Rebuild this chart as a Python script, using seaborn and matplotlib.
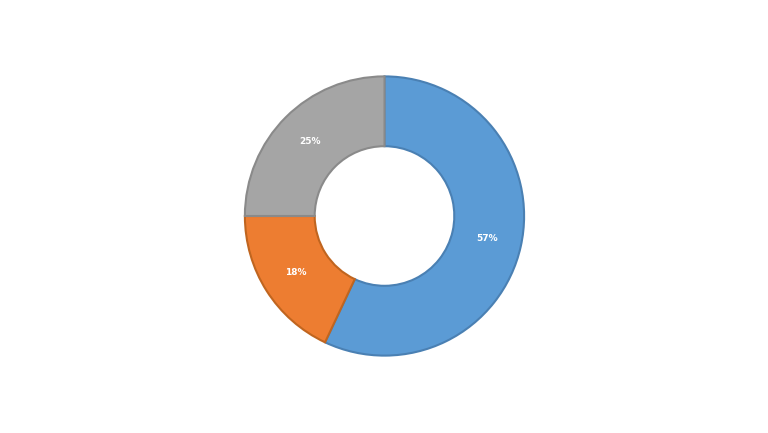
import matplotlib
matplotlib.use("Agg")
import matplotlib.pyplot as plt
import seaborn as sns

# ==========================================================
# Data
# ==========================================================

categories = ["Blue", "Orange", "Gray"]
shares = [57, 18, 25]
pct_labels = ["57%", "18%", "25%"]

fill_colors = ["#5B9BD5", "#ED7D31", "#A5A5A5"]
edge_colors = ["#4A80B3", "#C0651F", "#8A8A8A"]

sns.set_theme(style="white")
plt.rcParams["font.family"] = ["DejaVu Sans"]

# ==========================================================
# Donut chart
# ==========================================================

fig = plt.figure(figsize=(7.68, 4.33), dpi=100)
fig.patch.set_facecolor("white")

# square axes centred on the donut
side = 282
cx, cy = 384.5, 433 - 216
ax = fig.add_axes([
    (cx - side / 2) / 768,
    (cy - side / 2) / 433,
    side / 768,
    side / 433
])

wedges, _ = ax.pie(
    shares,
    colors=fill_colors,
    startangle=90,
    counterclock=False,
    radius=1,
    wedgeprops={"width": 0.5, "linewidth": 1.5}
)

for w, ec in zip(wedges, edge_colors):
    w.set_edgecolor(ec)

# labels at the middle of the ring
import numpy as np
for w, lab in zip(wedges, pct_labels):
    ang = np.deg2rad((w.theta1 + w.theta2) / 2)
    r = 0.75
    ax.text(
        r * np.cos(ang), r * np.sin(ang), lab,
        ha="center", va="center",
        color="white", fontsize=6.5, fontweight="bold"
    )

ax.set_xlim(-1.01, 1.01)
ax.set_ylim(-1.01, 1.01)
ax.set_aspect("equal")
ax.axis("off")

plt.savefig("out.png", dpi=100, facecolor="white")
plt.close()
